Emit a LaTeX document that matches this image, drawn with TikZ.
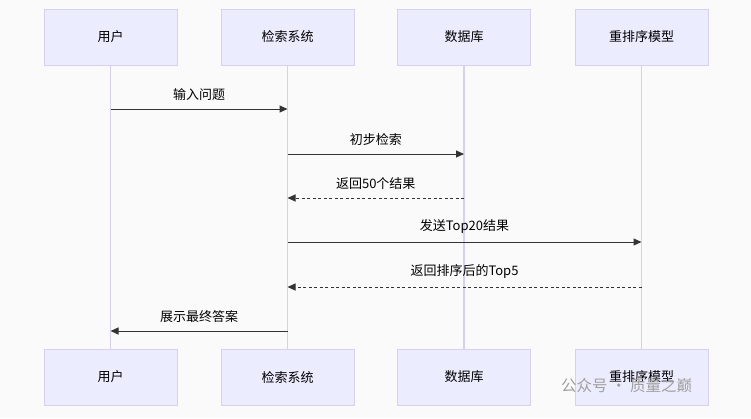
\documentclass[tikz,border=0pt]{standalone}
\usepackage{fontspec}
\setmainfont{Noto Sans CJK SC}
\usetikzlibrary{arrows.meta}
\definecolor{bg}{HTML}{FAFAFA}
\definecolor{boxfill}{HTML}{ECECFF}
\definecolor{boxline}{HTML}{D9CFF5}
\definecolor{msg}{HTML}{333333}
\begin{document}
\begin{tikzpicture}[x=1pt,y=-1pt,
  actor/.style={draw=boxline,fill=boxfill,minimum width=133pt,minimum height=56pt,inner sep=0pt,font=\fontsize{13}{15}\selectfont,line width=1pt},
  life/.style={draw=boxline,line width=1.3pt},
  m/.style={draw=msg,line width=1pt,-{Triangle[length=8pt,width=7pt]}},
  d/.style={m,dash pattern=on 3pt off 2.5pt},
  lab/.style={font=\fontsize{13}{15}\selectfont,text=black}]
\fill[bg] (0,0) rectangle (751,418);
\useasboundingbox (0,0) rectangle (751,418);
\foreach \n/\x/\t in {a/110.5/用户,b/287.5/检索系统,c/464/数据库,e/641.5/重排序模型}{
  \node[actor] (\n t) at (\x,37) {\t};
  \node[actor] (\n b) at (\x,377) {\t};
  \draw[life] (\n t.south) -- (\n b.north);
  \coordinate (\n1) at (\x,109);
  \coordinate (\n2) at (\x,154);
  \coordinate (\n3) at (\x,198);
  \coordinate (\n4) at (\x,242);
  \coordinate (\n5) at (\x,287);
  \coordinate (\n6) at (\x,331);
}
\draw[m] (a1) -- node[lab,above=5pt] {输入问题} (b1);
\draw[m] (b2) -- node[lab,above=5pt] {初步检索} (c2);
\draw[d] (c3) -- node[lab,above=5pt] {返回50个结果} (b3);
\draw[m] (b4) -- node[lab,above=5pt] {发送Top20结果} (e4);
\draw[d] (e5) -- node[lab,above=5pt] {返回排序后的Top5} (b5);
\draw[m] (b6) -- node[lab,above=5pt] {展示最终答案} (a6);
\node[font=\fontsize{15.5}{17}\selectfont,text=gray!75,anchor=west,inner sep=0pt] (wm) at (561,386) {公众号 · 质量之巅};
\end{tikzpicture}
\end{document}
